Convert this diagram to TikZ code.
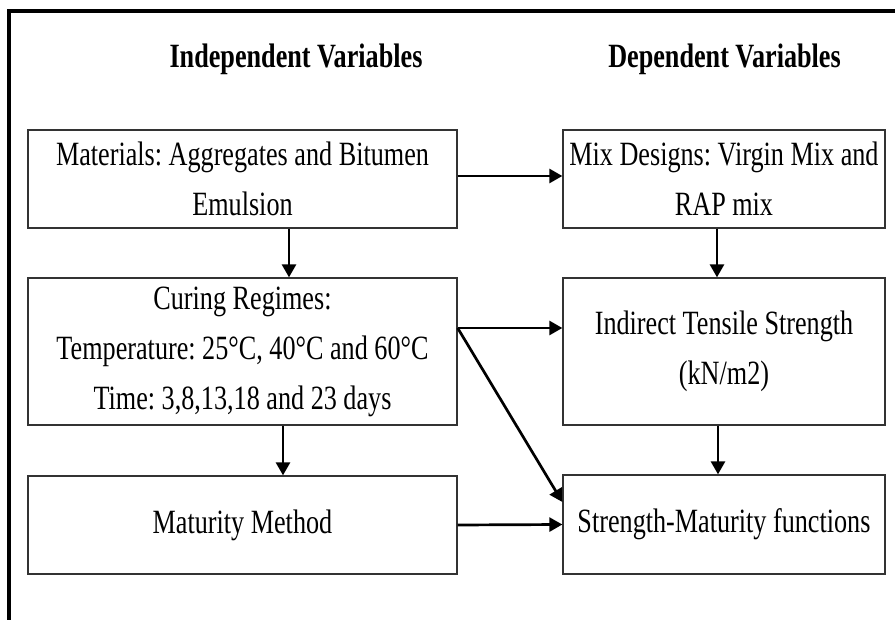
\documentclass[tikz,border=0pt]{standalone}
\usepackage{fontspec}
\setmainfont[FakeStretch=0.77]{Liberation Serif}
\usetikzlibrary{arrows.meta}
\frenchspacing

\begin{document}
\begin{tikzpicture}[x=1pt, y=-1pt,
	box/.style={draw=black!80, line width=1.3pt, align=center, inner sep=0pt,
		font=\fontsize{34}{50}\selectfont},
	leftbox/.style={box, minimum width=429pt},
	rightbox/.style={box, minimum width=322pt},
	heading/.style={font=\bfseries\fontsize{34}{40}\selectfont},
	arr/.style={line width=2.7pt, -{Triangle[length=13pt, width=14pt]}}]

% Define coordinates.

	\useasboundingbox (0,0) rectangle (895,620);

	%frame
	\coordinate (frameTop) at (895, 11);
	\coordinate (frameCorner) at (9, 11);
	\coordinate (frameBottom) at (9, 620);

	%headings
	\node[heading] (indep) at (296, 59) {Independent Variables};
	\node[heading] (dep) at (724.5, 59) {Dependent Variables};

	%left column
	\node[leftbox, minimum height=98pt] (materials) at (242.5, 179) {Materials: Aggregates and Bitumen\\Emulsion};
	\node[leftbox, minimum height=147pt] (curing) at (242.5, 351.5) {Curing Regimes:\\Temperature: 25°C, 40°C and 60°C\\Time: 3,8,13,18 and 23 days};
	\node[leftbox, minimum height=98pt] (maturity) at (242.5, 525) {Maturity Method};

	%right column
	\node[rightbox, minimum height=98pt] (mix) at (724, 179) {Mix Designs: Virgin Mix and\\RAP mix};
	\node[rightbox, minimum height=147pt] (itS) at (724, 351.5) {Indirect Tensile Strength\\(kN/m2)};
	\node[rightbox, minimum height=99pt] (strength) at (724, 524.5) {Strength-Maturity functions};

% Draw frame.

	\draw[line width=3.3pt] (frameTop) -- (frameCorner) -- (frameBottom);

% Draw arrows.

	\draw[arr] ([xshift=46.5pt]materials.south) -- ([xshift=46.5pt]curing.north);
	\draw[arr] ([xshift=40.5pt]curing.south) -- ([xshift=40.5pt]maturity.north);

	\draw[arr] ([xshift=-7pt]mix.south) -- ([xshift=-7pt]itS.north);
	\draw[arr] ([xshift=-6pt]itS.south) -- ([xshift=-6pt]strength.north);

	\draw[arr] ([yshift=3pt]materials.east) -- ([yshift=3pt]mix.west);
	\draw[arr] ([yshift=23.5pt]curing.east) -- ([yshift=23.5pt]itS.west);
	\draw[arr] ([yshift=23.5pt]curing.east) -- ([yshift=22.5pt]strength.west);
	\draw[arr] (maturity.east) -- (strength.west);

\end{tikzpicture}
\end{document}
